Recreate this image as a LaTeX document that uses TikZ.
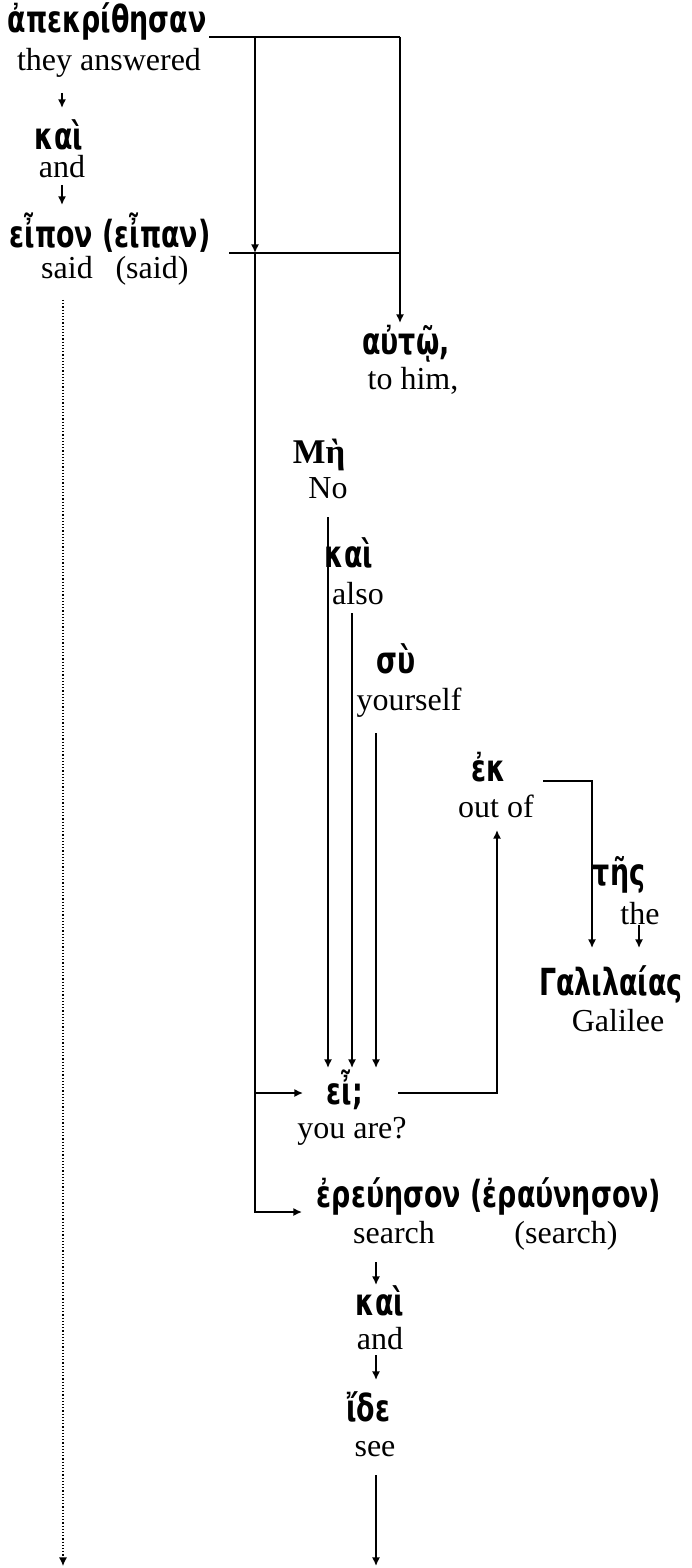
\documentclass[tikz,border=0pt,12pt]{standalone}
\usepackage{fontspec}
\setmainfont{Liberation Serif}
\newfontfamily\grkfont{DejaVu Sans}[FakeStretch=0.72]
\usepackage{tikz}
\usetikzlibrary{arrows.meta,calc}

\tikzset{
  grk/.style={font=\grkfont\bfseries\fontsize{14}{16}\selectfont, inner sep=0pt, anchor=base},
  eng/.style={inner sep=0pt, anchor=base},
  arr/.style={-{Latex[length=3.2pt,width=3pt]}},
  dots/.style={line width=0.45pt, dash pattern=on 0.45pt off 0.75pt},
}

\begin{document}
\begin{tikzpicture}[x=0.375pt,y=-0.375pt,line width=0.6pt]
    \useasboundingbox (0,0) rectangle (691,1568);
    % words
    \node[grk] (apek) at (107,33) {ἀπεκρίθησαν};
    \node[eng] (ans) at (109,71) {they answered};
    \node[grk] (kai1) at (59,150) {καὶ};
    \node[eng] (and1) at (62,178) {and};
    \node[grk] (eipon) at (110,248) {εἶπον (εἶπαν)};
    \node[eng] (said) at (67,279) {said};
    \node[eng] (saidalt) at (152,279) {(said)};
    \node[grk] (autw) at (406,355) {αὐτῷ,};
    \node[eng] (tohim) at (413,390) {to him,};
    \node[eng, font=\bfseries\fontsize{13}{15}\selectfont] (mh) at (319,463) {Μὴ};
    \node[eng] (no) at (328,498) {No};
    \node[grk] (kai2) at (349,567) {καὶ};
    \node[eng] (also) at (358,604) {also};
    \node[grk] (sy) at (396,673) {σὺ};
    \node[eng] (yourself) at (409,710) {yourself};
    \node[grk] (ek) at (489,781) {ἐκ};
    \node[eng] (outof) at (496,817) {out of};
    \node[grk] (ths) at (619,885) {τῆς};
    \node[eng] (the) at (640,924) {the};
    \node[grk] (galil) at (611,995) {Γαλιλαίας};
    \node[eng] (galilee) at (618,1031) {Galilee};
    \node[grk] (ei) at (345,1104) {εἶ;};
    \node[eng] (youare) at (352,1138) {you are?};
    \node[grk] (ereun) at (489,1207) {ἐρεύησον (ἐραύνησον)};
    \node[eng] (search) at (394,1243) {search};
    \node[eng] (searchalt) at (566,1243) {(search)};
    \node[grk] (kai3) at (380,1315) {καὶ};
    \node[eng] (and3) at (380,1349) {and};
    \node[grk] (ide) at (368,1421) {ἴδε};
    \node[eng] (see) at (375,1456) {see};

    \coordinate (tl) at (255,37);
    \coordinate (tr) at (400,37);
    \coordinate (ml) at (255,253);
    \coordinate (mr) at (400,253);
    \coordinate (endl) at (63,1566);
    \coordinate (endr) at (376,1566);

    % left column
    \draw[arr] ($(ans.base)+(-47,22)$) -- ($(kai1.base)+(3,-42)$);
    \draw[arr] ($(and1.base)+(0,7)$) -- ($(eipon.base)+(-48,-43)$);
    \draw[arr, dots] ($(said.base)+(-4,21)$) -- (endl);

    % top frame
    \draw ($(apek.base east |- tl)+(2,0)$) -- (tr);
    \draw[arr] (tr) -- ($(autw.base)+(-6,-32)$);
    \draw[arr] (tl) -- (ml);
    \draw ($(eipon.base east)+(18,5)$) -- (mr);
    \draw[arr] (ml) |- ($(ml |- ereun.base)+(47,5)$);
    \draw[arr] ($(ml |- ei.base)+(0,-11)$) -- +(48,0);

    % into ei
    \draw[arr] ($(no.base)+(0,19)$) -- ($(ei.base)+(-17,-36)$);
    \draw[arr] ($(also.base)+(-6,9)$) -- ($(ei.base)+(7,-36)$);
    \draw[arr] ($(yourself.base)+(-33,23)$) -- ($(ei.base)+(31,-36)$);
    \draw[arr] ($(ei.base)+(53,-11)$) -| ($(outof.base)+(1,13)$);

    % ek tes Galilaias
    \draw[arr] ($(ek.base)+(54,0)$) -| ($(galil.base)+(-19,-47)$);
    \draw[arr] ($(the.base)+(-1,1)$) -- ($(galil.base)+(28,-47)$);

    % bottom chain
    \draw[arr] ($(search.base)+(-18,19)$) -- ($(kai3.base)+(-4,-30)$);
    \draw[arr] ($(and3.base)+(-4,6)$) -- ($(ide.base)+(8,-41)$);
    \draw[arr] ($(see.base)+(1,19)$) -- (endr);
\end{tikzpicture}
\end{document}
